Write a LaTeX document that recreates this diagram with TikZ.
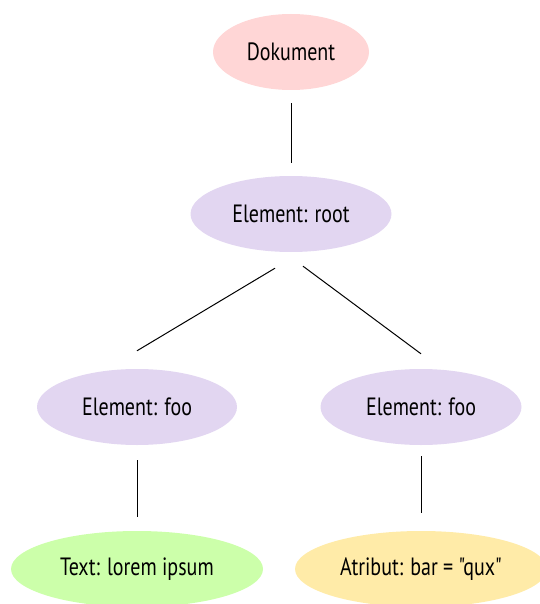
\documentclass[tikz,border=0pt]{standalone}
\usepackage{fontspec}
\newfontfamily\labfont[FakeStretch=0.8]{PT Sans}
\usetikzlibrary{shapes.geometric,calc}
\definecolor{cpink}{RGB}{255,214,214}
\definecolor{cpurple}{RGB}{226,214,241}
\definecolor{cgreen}{RGB}{204,255,170}
\definecolor{cyellow}{RGB}{255,235,168}
\begin{document}
\begin{tikzpicture}[x=1pt,y=-1pt,
  blob/.style={ellipse,inner sep=0pt,minimum height=76pt,font=\labfont\fontsize{25}{29}\selectfont},
  link/.style={draw=black,line width=1pt}]
\useasboundingbox (0,0) rectangle (539,604);
\node[blob,fill=cpink,minimum width=156pt] (doc) at (291,52) {Dokument};
\node[blob,fill=cpurple,minimum width=201pt] (root) at (291,214) {Element: root};
\node[blob,fill=cpurple,minimum width=200pt] (fooL) at (137,407) {Element: foo};
\node[blob,fill=cpurple,minimum width=201pt] (fooR) at (421,407) {Element: foo};
\node[blob,fill=cgreen,minimum width=252pt] (txt) at (137,569) {Text: lorem ipsum};
\node[blob,fill=cyellow,minimum width=252pt] (attr) at (421,569) {Atribut: bar = "qux"};
\draw[link] ($(doc.south)+(0,13)$) -- ($(root.north)+(0,-13)$);
\draw[link] ($(root.south)+(-16,16)$) -- ($(fooL.north)+(0,-18)$);
\draw[link] ($(root.south)+(12,14)$) -- ($(fooR.north)+(0,-15)$);
\draw[link] ($(fooL.south)+(0,15)$) -- ($(txt.north)+(0,-14)$);
\draw[link] ($(fooR.south)+(0,11)$) -- ($(attr.north)+(0,-18)$);
\end{tikzpicture}
\end{document}
